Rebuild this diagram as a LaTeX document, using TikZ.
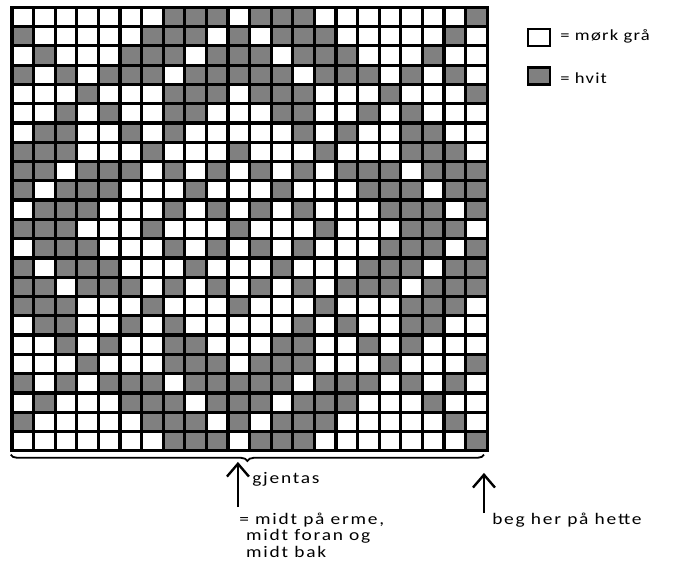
\documentclass[tikz,border=0pt]{standalone}
\usepackage{fontspec}
\setmainfont{Carlito}[FakeStretch=1.2,LetterSpace=8]
\usepackage{tikz}
\usetikzlibrary{arrows.meta,decorations.pathreplacing}
\usepackage{xcolor}
\definecolor{StitchGray}{HTML}{808080}

\begin{document}
\begin{tikzpicture}[x=0.54cm,y=-0.482cm,every node/.style={font=\fontsize{11}{15}\selectfont,inner sep=0pt},
    note/.style={anchor=base west,font=\fontsize{11.5}{15}\selectfont\addfontfeature{LetterSpace=11}},
    keybox/.style={draw,line width=1.8pt,minimum width=0.55cm,minimum height=0.425cm}]
  \useasboundingbox (-0.556,-0.379) rectangle (30.694,28.875);
  % chart, row 0 at the top, columns counted from 1
  \foreach \r/\cols in {0/{8,9,10,12,13,14,22},1/{1,7,8,9,11,13,14,15,21},
      2/{2,6,7,8,10,11,12,14,15,16,20},3/{1,3,5,6,7,9,10,11,12,13,15,16,17,19,21},
      4/{4,8,9,10,12,13,14,18,22},5/{3,5,8,9,13,14,17,19},6/{2,3,6,8,14,16,19,20},
      7/{1,2,3,7,11,15,19,20,21},8/{1,2,4,5,6,8,10,12,14,16,17,18,20,21,22},
      9/{1,3,4,5,9,13,17,18,19,21,22},10/{2,3,4,8,10,12,14,18,19,20,22},
      11/{1,2,3,7,11,15,19,20,21},12/{2,3,4,8,10,12,14,18,19,20,22},
      13/{1,3,4,5,9,13,17,18,19,21,22},14/{1,2,4,5,6,8,10,12,14,16,17,18,20,21,22},
      15/{1,2,3,7,11,15,19,20,21},16/{2,3,6,8,14,16,19,20},17/{3,5,8,9,13,14,17,19},
      18/{4,8,9,10,12,13,14,18,22},19/{1,3,5,6,7,9,10,11,12,13,15,16,17,19,21},
      20/{2,6,7,8,10,11,12,14,15,16,20},21/{1,7,8,9,11,13,14,15,21},
      22/{8,9,10,12,13,14,22}}{
    \foreach \c in \cols {\fill[StitchGray] (\c-1,\r) rectangle (\c,\r+1);}
  }
  \foreach \c in {1,...,21}{\draw[line width=2.3pt] (\c,0) -- (\c,23);}
  \foreach \r in {1,...,22}{\draw[line width=2.3pt] (0,\r) -- (22,\r);}
  \draw[line width=2.3pt] (0,0) rectangle (22,23);

  % repeat brace and arrows
  \coordinate (braceR) at (21.85,23.2);
  \coordinate (braceL) at (-0.06,23.2);
  \draw[line width=1.3pt,decorate,decoration={brace,amplitude=0.16cm}] (braceR) -- (braceL);
  \coordinate (midTip) at (10.46,23.58);
  \coordinate (midFoot) at (10.46,25.92);
  \coordinate (hoodTip) at (21.85,24.15);
  \coordinate (hoodFoot) at (21.85,26.23);
  \draw[line width=1.7pt,-{Straight Barb[length=0.32cm,width=0.55cm,line width=1.7pt]}] (midFoot) -- (midTip);
  \draw[line width=1.7pt,-{Straight Barb[length=0.32cm,width=0.55cm,line width=1.7pt]}] (hoodFoot) -- (hoodTip);
  \node[note] (gjentas) at (11.11,24.69) {gjentas};
  \node[note] (midtA) at (10.51,26.80) {= midt på erme,};
  \node[note] (midtB) at (10.83,27.67) {midt foran og};
  \node[note] (midtC) at (10.83,28.53) {midt bak};
  \node[note] (hette) at (22.22,26.80) {beg her på hette};

  % key
  \node[keybox,fill=white] (keyLight) at (24.4,1.57) {};
  \node[keybox,fill=StitchGray] (keyDark) at (24.4,3.56) {};
  \node[anchor=base west] (keyLightTxt) at (25.37,1.73) {= mørk grå};
  \node[anchor=base west] (keyDarkTxt) at (25.37,3.94) {= hvit};
\end{tikzpicture}
\end{document}
